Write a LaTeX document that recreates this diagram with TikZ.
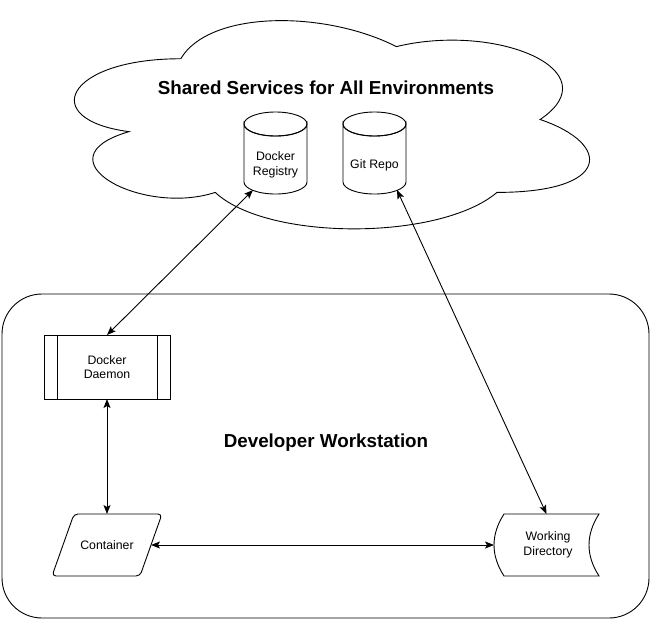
\documentclass[tikz,border=0pt]{standalone}
\usepackage{fontspec}
\setmainfont{Liberation Sans}
\usetikzlibrary{arrows.meta,calc}
\tikzset{
  line/.style={draw=black, line width=0.9pt},
  biarrow/.style={line, {Stealth[length=9pt,width=7pt,inset=2pt]}-{Stealth[length=9pt,width=7pt,inset=2pt]}},
  anchorbox/.style={inner sep=0pt, outer sep=0pt},
  label12/.style={font=\fontsize{12.3}{14.5}\selectfont, align=center, text=black},
  titletext/.style={font=\fontsize{18.8}{22}\selectfont\bfseries, text=black},
}
\begin{document}
\begin{tikzpicture}[x=1pt,y=-1pt]
\useasboundingbox (0,0) rectangle (650,619);
\fill[white] (0,0) rectangle (650,619);

% cloud
\draw[line, fill=white] (180.75,58.75)
  .. controls (65.75,58.75) and (37,119.5) .. (129,131.65)
  .. controls (37,158.38) and (140.5,216.7) .. (215.25,192.4)
  .. controls (267,241) and (439.5,241) .. (497,192.4)
  .. controls (612,192.4) and (612,143.8) .. (540.125,119.5)
  .. controls (612,70.9) and (497,22.3) .. (396.375,46.6)
  .. controls (324.5,10.15) and (209.5,10.15) .. (180.75,58.75) -- cycle;
\node[titletext] (cloudtitle) at (326,88) {Shared Services for All Environments};

% workstation
\node[line, rounded corners=40pt, minimum width=647pt, minimum height=324pt, anchorbox] (ws) at (325.5,456) {};
\node[titletext] (wstitle) at (326,443) {Developer Workstation};

% cylinders
\node[anchorbox, minimum width=63pt, minimum height=82pt] (reg) at (275.5,153) {};
\node[anchorbox, minimum width=63pt, minimum height=82pt] (git) at (374.5,153) {};
\foreach \n in {reg,git}{
  \draw[line, fill=white] ([yshift=-12pt]\n.north west) -- ([yshift=12pt]\n.south west)
    arc[start angle=180, end angle=360, x radius=31.5pt, y radius=12pt]
    -- ([yshift=-12pt]\n.north east)
    arc[start angle=0, end angle=-180, x radius=31.5pt, y radius=12pt] -- cycle;
  \draw[line] ([yshift=-12pt]\n.north) ellipse[x radius=31.5pt, y radius=12pt];
}
\node[label12] (regtext) at (275.5,165) {Docker\\Registry};
\node[label12] (gittext) at (374.5,165) {Git Repo};

% docker daemon
\node[line, anchorbox, minimum width=126pt, minimum height=64pt] (daemon) at (107,367) {};
\draw[line] ([xshift=13pt]daemon.north west) -- ([xshift=13pt]daemon.south west);
\draw[line] ([xshift=-13pt]daemon.north east) -- ([xshift=-13pt]daemon.south east);
\node[label12] (daemontext) at (107,367) {Docker\\Daemon};

% container
\node[anchorbox, minimum width=110pt, minimum height=62pt] (cont) at (107,545) {};
\draw[line, rounded corners=4pt] ([xshift=22pt]cont.north west) -- (cont.north east)
  -- ([xshift=-22pt]cont.south east) -- (cont.south west) -- cycle;
\node[label12] (conttext) at (107,545) {Container};

% working directory
\node[anchorbox, minimum width=105pt, minimum height=62pt] (wd) at (546.5,545) {};
\draw[line] ([xshift=10pt]wd.north west) -- (wd.north east)
  .. controls ($(wd.east)+(-13.33,-10.33)$) and ($(wd.east)+(-13.33,10.33)$) .. (wd.south east)
  -- ([xshift=10pt]wd.south west)
  .. controls ($(wd.west)+(-3.33,10.33)$) and ($(wd.west)+(-3.33,-10.33)$) .. ([xshift=10pt]wd.north west) -- cycle;
\node[label12] (wdtext) at (548,545) {Working\\Directory};

% connectors
\draw[biarrow] (daemon.north) -- ($(reg.south)+(-22.5,-4)$);
\draw[biarrow] ($(git.south)+(22.5,-4)$) -- (wd.north);
\draw[biarrow] (daemon.south) -- (cont.north);
\draw[biarrow] ($(cont.east)+(-11,0)$) -- (wd.west);
\end{tikzpicture}
\end{document}
